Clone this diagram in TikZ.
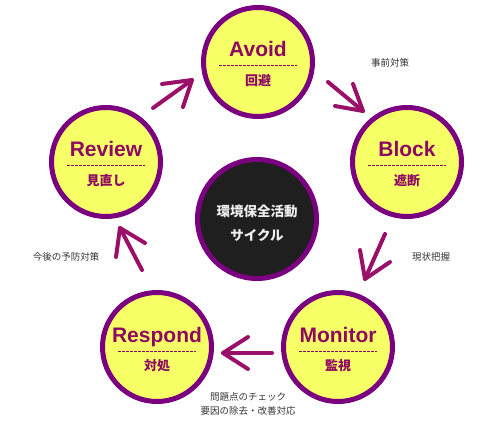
\documentclass[tikz,border=0pt]{standalone}
\usepackage{fontspec}
\setmainfont{Liberation Sans}
\newfontfamily\jp{Noto Sans CJK JP}
\usetikzlibrary{calc}
\definecolor{cyel}{HTML}{F7FF66}
\definecolor{cpur}{HTML}{7A007F}
\definecolor{ctxt}{HTML}{8E0A62}
\definecolor{carr}{HTML}{9A1068}
\definecolor{cblk}{HTML}{1F1F1F}
\definecolor{clab}{HTML}{333333}
\definecolor{cwht}{HTML}{EEEEEE}
\tikzset{
  stagecirc/.style={circle, draw=cpur, fill=cyel, line width=5bp, minimum size=109bp, inner sep=0},
  centercirc/.style={circle, draw=cpur, fill=cblk, line width=5bp, minimum size=119bp, inner sep=0},
  titletext/.style={inner sep=0, text=ctxt, font=\fontsize{21bp}{24bp}\selectfont\bfseries},
  jptext/.style={inner sep=0, text=ctxt, font=\jp\fontsize{13bp}{15bp}\selectfont\bfseries},
  centertext/.style={inner sep=0, text=cwht, font=\jp\fontsize{13.5bp}{16bp}\selectfont\bfseries},
  labeltext/.style={inner sep=0, text=clab, font=\jp\fontsize{9.5bp}{14bp}\selectfont},
  dashline/.style={draw=ctxt, line width=1bp, dash pattern=on 2.5bp off 1.5bp},
  cyclearr/.style={draw=carr, line width=4bp, line cap=round, line join=round},
}
\newcommand\stagenode[5]{%
  \node[stagecirc] (#1) at (#2,#3) {};
  \node[titletext, anchor=base] (#1t) at ($(#1)+(0,-5)$) {#4};
  \coordinate (#1dl) at ($(#1)+(-39,4)$);
  \coordinate (#1dr) at ($(#1)+(39,4)$);
  \draw[dashline] (#1dl) -- (#1dr);
  \node[jptext] (#1j) at ($(#1)+(0,19)$) {#5};
}
\newcommand\cyclearrow[9]{%
  \coordinate (#1t) at (#2,#3);
  \coordinate (#1h) at (#4,#5);
  \coordinate (#1a) at (#6,#7);
  \coordinate (#1b) at (#8,#9);
  \draw[cyclearr] (#1t) -- (#1h);
  \draw[cyclearr] (#1a) -- (#1h) -- (#1b);
}
\begin{document}
\begin{tikzpicture}[x=1bp, y=-1bp]
  \useasboundingbox (0,0) rectangle (490,440);
  \stagenode{av}{258}{62}{Avoid}{回避}
  \stagenode{bl}{407}{162}{Block}{遮断}
  \stagenode{mo}{338}{347}{Monitor}{監視}
  \stagenode{re}{157}{347}{Respond}{対処}
  \stagenode{rv}{106}{162}{Review}{見直し}
  \node[centercirc] (c) at (257,219) {};
  \node[centertext] (c1) at (257,211) {環境保全活動};
  \node[centertext] (c2) at (257,235) {サイクル};
  \cyclearrow{a1}{153}{108}{192}{80}{162}{84}{183}{107}
  \cyclearrow{a2}{328}{82}{363}{111}{335}{106}{353}{84}
  \cyclearrow{a3}{385}{234}{365}{279}{360}{250}{390}{262}
  \cyclearrow{a4}{272}{353}{223}{353}{248}{337}{248}{369}
  \cyclearrow{a5}{142}{270}{120}{228}{116}{257}{145}{243}
  \node[labeltext] (l1) at (390,63) {事前対策};
  \node[labeltext] (l2) at (431,257) {現状把握};
  \node[labeltext] (l3) at (66,257) {今後の予防対策};
  \node[labeltext] (l4) at (248,397) {問題点のチェック};
  \node[labeltext] (l5) at (248,411) {要因の除去・改善対応};
\end{tikzpicture}
\end{document}
